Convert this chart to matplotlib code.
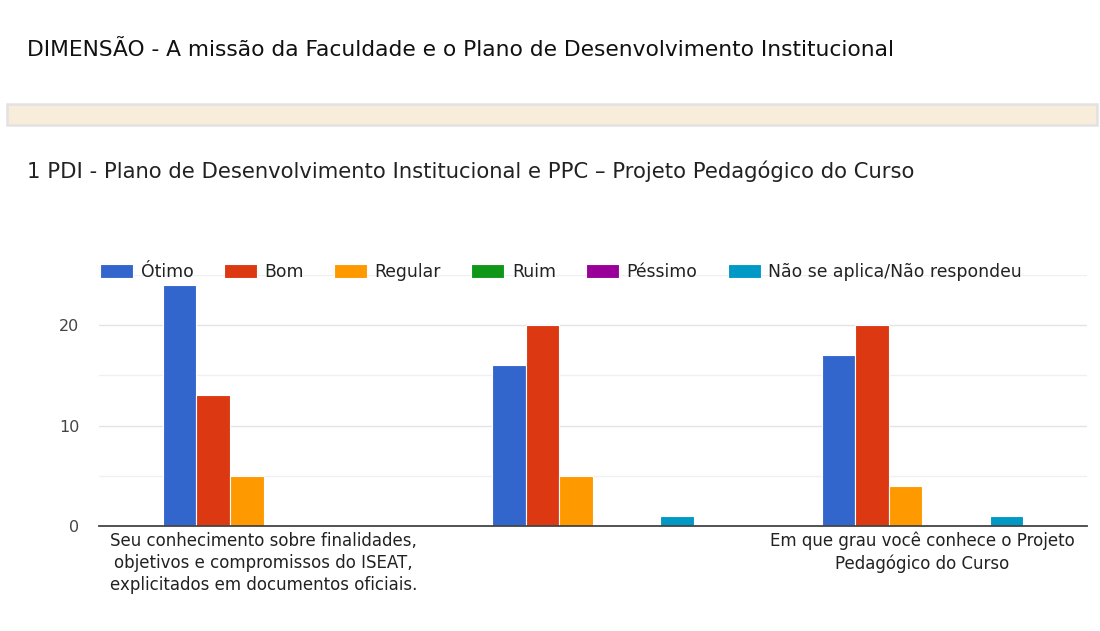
import matplotlib.pyplot as plt
import matplotlib.patches as mpatches
import numpy as np

titulo = 'DIMENSÃO - A missão da Faculdade e o Plano de Desenvolvimento Institucional'
subtitulo = '1 PDI - Plano de Desenvolvimento Institucional e PPC – Projeto Pedagógico do Curso'

perguntas = ['Seu conhecimento sobre finalidades,\nobjetivos e compromissos do ISEAT,\nexplicitados em documentos oficiais.',
             '',
             'Em que grau você conhece o Projeto\nPedagógico do Curso']
series = ['Ótimo', 'Bom', 'Regular', 'Ruim', 'Péssimo', 'Não se aplica/Não respondeu']
otimo = [24, 16, 17]
bom = [13, 20, 20]
regular = [5, 5, 4]
ruim = [0, 0, 0]
pessimo = [0, 0, 0]
nao_aplica = [0, 1, 1]
cores = ['#3366cc', '#dc3912', '#ff9900', '#109618', '#990099', '#0099c6']

valores = [otimo, bom, regular, ruim, pessimo, nao_aplica]

plt.rcParams['font.family'] = 'DejaVu Sans'
fig = plt.figure(figsize=(11, 6.31), dpi=100)

# cabecalho
fig.text(27/1100, 1-50/631, titulo, fontsize=15.7, color='#111111', va='center')
fig.patches.append(mpatches.Rectangle((7/1100, 1-125/631), 1090/1100, 21/631, transform=fig.transFigure,
                                      facecolor='#f8eddb', edgecolor='#e2e2e2', linewidth=1.8))
fig.text(27/1100, 1-171/631, subtitulo, fontsize=15.2, color='#222222', va='center')

ax = fig.add_axes([99/1100, 1-526/631, 988/1100, 251/631])
x = np.arange(len(perguntas))
slot = 0.102
for i in range(len(series)):
    ax.bar(x - 2.5*slot + i*slot, valores[i], width=slot, color=cores[i],
           edgecolor='white', linewidth=0.8, label=series[i], zorder=3)

ax.set_xlim(-0.5, 2.5)
ax.set_ylim(0, 25)
for g in [5, 15, 25]:
    ax.axhline(g, color='#f0f0f0', linewidth=1, zorder=1)
for g in [10, 20]:
    ax.axhline(g, color='#e4e4e4', linewidth=1, zorder=1)
ax.set_yticks([0, 10, 20])
ax.set_xticks(x)
ax.set_xticklabels(perguntas, linespacing=1.3)
ax.tick_params(length=0)
ax.tick_params(axis='y', pad=14, labelsize=11.5, labelcolor='#444444')
ax.tick_params(axis='x', pad=4, labelsize=12, labelcolor='#222222')
for s in ['top', 'right', 'left']:
    ax.spines[s].set_visible(False)
ax.spines['bottom'].set_color('#444444')
ax.spines['bottom'].set_linewidth(1.3)
ax.spines['bottom'].set_zorder(4)

leg = fig.legend(loc='center left', bbox_to_anchor=(100/1100, 1-272/631), ncol=6, frameon=False,
                 prop={'size': 12.4}, handlelength=1.92, handleheight=0.88,
                 handletextpad=0.45, columnspacing=1.74, borderaxespad=0, borderpad=0)
for t in leg.get_texts():
    t.set_color('#222222')

fig.savefig('out.png', dpi=100)
